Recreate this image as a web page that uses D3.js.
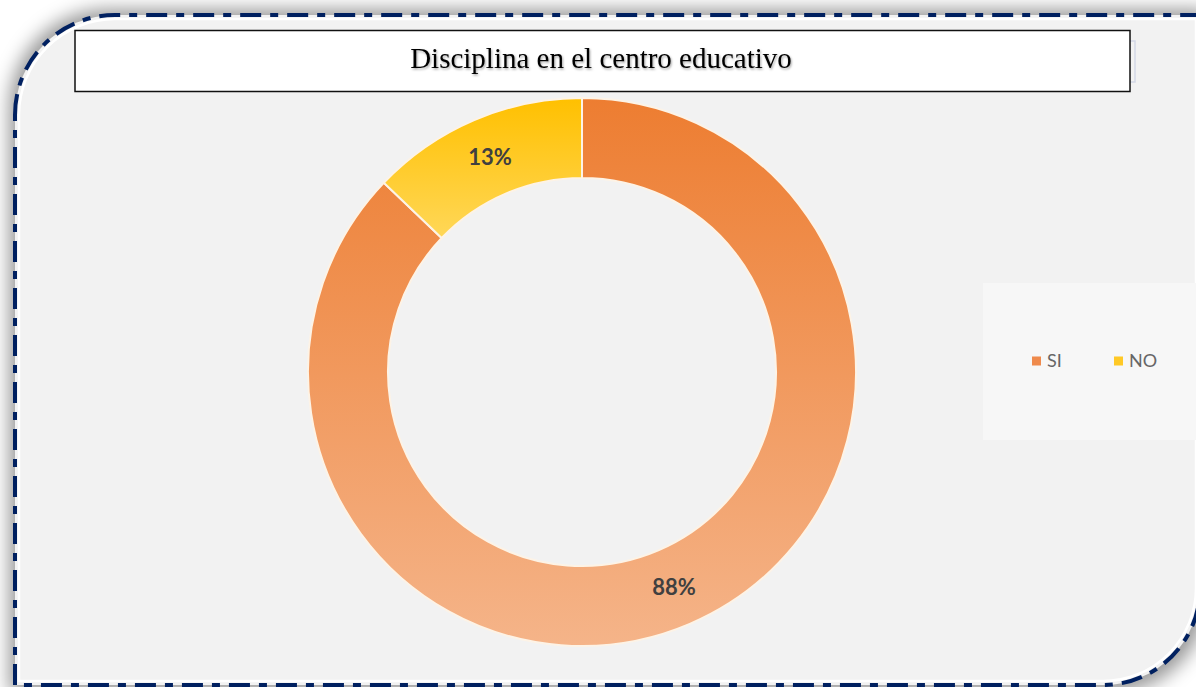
<!DOCTYPE html>
<html>
<head>
<meta charset="utf-8">
<script src="https://cdn.jsdelivr.net/npm/d3@7"></script>
<style>
  html, body { margin: 0; padding: 0; background: #ffffff; overflow: hidden; }
  svg { display: block; }
</style>
</head>
<body>
<svg id="chart" width="1196" height="687"></svg>
<script>
// Survey result: discipline at the school
const categories = ["SI", "NO"];
const values = [88, 13];
const valueLabels = ["88%", "13%"];
const titleText = "Disciplina en el centro educativo";

const W = 1196, H = 687;
const svg = d3.select("#chart");
const defs = svg.append("defs");

// blur used for the card's shadow
const blur = defs.append("filter").attr("id", "softBlur")
  .attr("filterUnits", "userSpaceOnUse")
  .attr("x", -60).attr("y", -60).attr("width", W + 120).attr("height", H + 120);
blur.append("feGaussianBlur").attr("stdDeviation", 9);

const tsh = defs.append("filter").attr("id", "textShadow")
  .attr("x", "-5%").attr("y", "-30%").attr("width", "110%").attr("height", "160%");
tsh.append("feDropShadow").attr("dx", 1).attr("dy", 1.5)
  .attr("stdDeviation", 1).attr("flood-color", "#000").attr("flood-opacity", 0.35);

// card outline: rounded top-left and bottom-right corners
function cardPath(x0, y0, x1, y1, rTL, rBR) {
  const p = d3.path();
  p.moveTo(x0, y0 + rTL);
  p.arcTo(x0, y0, x0 + rTL, y0, rTL);
  p.lineTo(x1, y0);
  p.lineTo(x1, y1 - rBR);
  p.arcTo(x1, y1, x1 - rBR, y1, rBR);
  p.lineTo(x0, y1);
  p.closePath();
  return p.toString();
}

// shadow behind the card
svg.append("path")
  .attr("d", cardPath(9, 9, 1207, 693, 100, 97))
  .attr("fill", "#000").attr("fill-opacity", 0.4)
  .attr("filter", "url(#softBlur)");
svg.append("path")
  .attr("d", cardPath(15, 15, 1200, 685, 100, 97))
  .attr("fill", "#f2f2f2");
svg.append("path")
  .attr("d", cardPath(19, 19, 1196, 681, 96, 93))
  .attr("fill", "none").attr("stroke", "#ffffff").attr("stroke-width", 2.5);
svg.append("path")
  .attr("d", cardPath(15, 15, 1200, 685, 100, 97))
  .attr("fill", "none").attr("stroke", "#002060").attr("stroke-width", 4)
  .attr("stroke-dasharray", "21,9,8,9");

// legend panel
const legendG = svg.append("g");
legendG.append("rect")
  .attr("x", 983).attr("y", 283).attr("width", 230).attr("height", 157)
  .attr("fill", "#f7f7f7");

// donut geometry
const cx = 582, cy = 372, rOuter = 274, rInner = 194;

// vertical gradients, defined in the donut's own coordinates
const gradients = [
  { cat: "SI", from: "#ed7d31", to: "#f5b489", y1: -rOuter, y2: rOuter },
  { cat: "NO", from: "#ffc000", to: "#ffd95e", y1: -rOuter, y2: -rInner + 70 }
];
gradients.forEach(g => {
  const lg = defs.append("linearGradient").attr("id", "grad-" + g.cat)
    .attr("gradientUnits", "userSpaceOnUse")
    .attr("x1", 0).attr("y1", g.y1).attr("x2", 0).attr("y2", g.y2);
  lg.append("stop").attr("offset", "0%").attr("stop-color", g.from);
  lg.append("stop").attr("offset", "100%").attr("stop-color", g.to);
});

const data = categories.map((c, i) => ({ cat: c, value: values[i], label: valueLabels[i] }));
const pie = d3.pie().value(d => d.value).sort(null);
const arc = d3.arc().innerRadius(rInner).outerRadius(rOuter);
const labelArc = d3.arc().innerRadius((rInner + rOuter) / 2).outerRadius((rInner + rOuter) / 2);

const donut = svg.append("g").attr("transform", `translate(${cx},${cy})`);
const arcs = pie(data);
donut.selectAll("path.slice").data(arcs).join("path")
  .attr("class", "slice")
  .attr("d", arc)
  .attr("fill", d => `url(#grad-${d.data.cat})`)
  .attr("stroke", "#fdf3e6").attr("stroke-width", 2);

donut.selectAll("text.val").data(arcs).join("text")
  .attr("class", "val")
  .attr("transform", d => `translate(${labelArc.centroid(d)})`)
  .attr("text-anchor", "middle")
  .attr("dy", "0.36em")
  .attr("font-family", "Lato, 'Open Sans', sans-serif")
  .attr("font-size", 22)
  .attr("font-weight", 700)
  .attr("fill", "#404040")
  .text(d => d.data.label);

// legend entries
const legendItems = legendG.selectAll("g.item").data(data).join("g")
  .attr("class", "item")
  .attr("transform", (d, i) => `translate(${1032 + i * 82},361)`);
legendItems.append("rect")
  .attr("x", 0).attr("y", -4.5).attr("width", 9).attr("height", 9)
  .attr("fill", d => d.cat === "SI" ? "#ef8a4c" : "#ffc926");
legendItems.append("text")
  .attr("x", 15).attr("dy", "0.36em")
  .attr("font-family", "Lato, 'Open Sans', sans-serif")
  .attr("font-size", 18)
  .attr("fill", "#666666")
  .text(d => d.cat);

// title box
svg.append("rect")
  .attr("x", 1125).attr("y", 41).attr("width", 10).attr("height", 41)
  .attr("fill", "none").attr("stroke", "#d3d8e6").attr("stroke-width", 1.5);
svg.append("rect")
  .attr("x", 75).attr("y", 30.5).attr("width", 1055).attr("height", 61)
  .attr("fill", "#ffffff").attr("stroke", "#111111").attr("stroke-width", 1.5);
svg.append("text")
  .attr("x", 601).attr("y", 68)
  .attr("text-anchor", "middle")
  .attr("font-family", "'Liberation Serif', 'Times New Roman', serif")
  .attr("font-size", 29)
  .attr("fill", "#000")
  .attr("filter", "url(#textShadow)")
  .text(titleText);
</script>
</body>
</html>
